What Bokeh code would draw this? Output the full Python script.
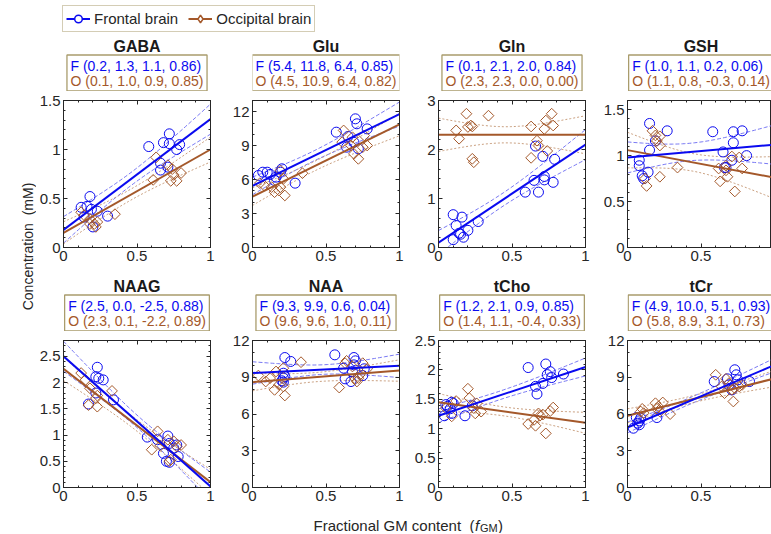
import numpy as np
from bokeh.plotting import figure
from bokeh.layouts import column, row
from bokeh.models import (Range1d, FixedTicker, LinearAxis, Legend, LegendItem,
                          CustomJSTickFormatter)
from bokeh.core.properties import value
from bokeh.embed import file_html
from bokeh.resources import INLINE

# ------------------------------------------------------------------ data
metabolites = ["GABA", "Glu", "Gln", "GSH", "NAAG", "NAA", "tCho", "tCr"]
ann_f = ["F (0.2, 1.3, 1.1, 0.86)", "F (5.4, 11.8, 6.4, 0.85)", "F (0.1, 2.1, 2.0, 0.84)",
         "F (1.0, 1.1, 0.2, 0.06)", "F (2.5, 0.0, -2.5, 0.88)", "F (9.3, 9.9, 0.6, 0.04)",
         "F (1.2, 2.1, 0.9, 0.85)", "F (4.9, 10.0, 5.1, 0.93)"]
ann_o = ["O (0.1, 1.0, 0.9, 0.85)", "O (4.5, 10.9, 6.4, 0.82)", "O (2.3, 2.3, 0.0, 0.00)",
         "O (1.1, 0.8, -0.3, 0.14)", "O (2.3, 0.1, -2.2, 0.89)", "O (9.6, 9.6, 1.0, 0.11)",
         "O (1.4, 1.1, -0.4, 0.33)", "O (5.8, 8.9, 3.1, 0.73)"]
y_max = [1.5, 13, 3, 1.6, 2.8, 12, 2.5, 12]
y_major_step = [0.5, 3, 1, 0.5, 0.5, 3, 0.5, 3]
y_minor_step = [0.1, 1, 0.2, 0.1, 0.1, 1, 0.1, 1]
x_major = [0, 0.5, 1]
x_minor_step = 0.1
fit_x = [0.0, 1.0]
# fitted concentration at f_GM = 0 and f_GM = 1 (frontal / occipital)
fit_f0 = [0.18, 5.45, 0.10, 0.98, 2.50, 9.35, 1.22, 4.90]
fit_f1 = [1.31, 11.80, 2.10, 1.12, 0.02, 9.93, 2.05, 10.00]
fit_o0 = [0.15, 4.50, 2.30, 1.06, 2.26, 8.60, 1.45, 5.85]
fit_o1 = [1.00, 10.88, 2.30, 0.76, 0.10, 9.55, 1.10, 8.90]

gaba_fx = [0.58, 0.68, 0.72, 0.72, 0.79, 0.77, 0.66, 0.66, 0.71, 0.18, 0.12, 0.16, 0.14, 0.23, 0.20, 0.30, 0.19]
gaba_fy = [1.03, 1.07, 1.16, 1.06, 1.05, 1.00, 0.86, 0.79, 0.82, 0.52, 0.41, 0.42, 0.31, 0.37, 0.21, 0.32, 0.39]
gaba_ox = [0.12, 0.14, 0.18, 0.21, 0.23, 0.22, 0.35, 0.63, 0.61, 0.71, 0.74, 0.73, 0.75, 0.77, 0.80, 0.18]
gaba_oy = [0.36, 0.33, 0.29, 0.24, 0.26, 0.21, 0.34, 0.92, 0.69, 0.84, 0.80, 0.68, 0.74, 0.68, 0.76, 0.24]

glu_fx = [0.04, 0.07, 0.10, 0.12, 0.16, 0.15, 0.19, 0.20, 0.29, 0.57, 0.65, 0.70, 0.71, 0.78, 0.64, 0.72, 0.69]
glu_fy = [6.37, 6.66, 6.66, 6.46, 6.22, 5.93, 6.66, 6.96, 5.69, 10.20, 9.82, 11.38, 10.94, 10.49, 8.87, 8.73, 9.30]
glu_ox = [0.05, 0.08, 0.13, 0.15, 0.19, 0.19, 0.18, 0.22, 0.21, 0.34, 0.62, 0.61, 0.67, 0.69, 0.72, 0.75, 0.78, 0.76, 0.68]
glu_oy = [5.69, 5.48, 5.34, 4.89, 6.81, 5.34, 5.04, 4.60, 6.07, 6.57, 10.35, 9.32, 9.02, 8.28, 7.84, 8.87, 9.02, 9.91, 9.75]

gln_fx = [0.10, 0.16, 0.12, 0.10, 0.14, 0.17, 0.20, 0.27, 0.15, 0.66, 0.71, 0.79, 0.59, 0.65, 0.68, 0.72, 0.72, 0.78]
gln_fy = [0.67, 0.62, 0.45, 0.16, 0.29, 0.21, 0.35, 0.53, 0.27, 2.07, 1.86, 1.80, 1.13, 1.37, 1.13, 1.45, 1.38, 1.33]
gln_ox = [0.12, 0.14, 0.19, 0.20, 0.22, 0.23, 0.23, 0.24, 0.34, 0.63, 0.63, 0.67, 0.68, 0.72, 0.73, 0.74, 0.77, 0.78]
gln_oy = [2.39, 2.22, 2.73, 2.46, 2.49, 2.47, 1.81, 1.74, 2.69, 2.47, 1.83, 2.18, 2.08, 2.42, 2.59, 1.97, 2.73, 2.49]

gsh_fx = [0.08, 0.08, 0.10, 0.11, 0.14, 0.15, 0.15, 0.19, 0.27, 0.58, 0.65, 0.66, 0.67, 0.72, 0.72, 0.78, 0.81, 0.71]
gsh_fy = [0.95, 0.89, 0.78, 0.75, 0.82, 1.06, 1.35, 1.16, 1.27, 1.26, 1.04, 0.87, 0.87, 1.26, 1.14, 1.27, 1.00, 0.95]
gsh_ox = [0.12, 0.13, 0.17, 0.19, 0.20, 0.22, 0.22, 0.22, 0.34, 0.62, 0.63, 0.67, 0.68, 0.71, 0.73, 0.76, 0.78, 0.67]
gsh_oy = [0.75, 0.67, 1.27, 1.22, 1.16, 1.11, 1.21, 0.77, 0.87, 0.86, 0.72, 0.84, 0.77, 0.99, 0.61, 0.98, 0.86, 0.89]

naag_fx = [0.23, 0.22, 0.24, 0.27, 0.22, 0.17, 0.34, 0.57, 0.64, 0.71, 0.72, 0.68, 0.70, 0.72, 0.75, 0.78, 0.77]
naag_fy = [2.29, 2.11, 2.08, 2.05, 1.80, 1.59, 1.67, 0.96, 0.91, 0.98, 0.84, 0.65, 0.50, 0.48, 0.75, 0.59, 0.81]
naag_ox = [0.12, 0.15, 0.18, 0.17, 0.22, 0.23, 0.23, 0.33, 0.64, 0.60, 0.66, 0.72, 0.73, 0.75, 0.77, 0.80, 0.71]
naag_oy = [2.18, 2.05, 1.89, 1.57, 1.70, 1.75, 1.54, 1.84, 1.07, 0.72, 0.80, 0.50, 0.53, 0.88, 0.78, 0.81, 0.91]

naa_fx = [0.22, 0.26, 0.21, 0.20, 0.21, 0.22, 0.21, 0.56, 0.62, 0.63, 0.67, 0.69, 0.70, 0.69, 0.75, 0.76, 0.68]
naa_fy = [10.61, 10.29, 9.33, 8.71, 8.60, 9.06, 8.93, 10.83, 9.74, 8.87, 8.65, 10.61, 10.34, 10.01, 9.14, 9.69, 9.47]
naa_ox = [0.04, 0.09, 0.12, 0.16, 0.15, 0.18, 0.21, 0.21, 0.22, 0.33, 0.59, 0.63, 0.64, 0.68, 0.70, 0.71, 0.73, 0.75, 0.78, 0.72]
naa_oy = [9.14, 8.65, 8.93, 9.47, 7.97, 8.38, 9.74, 8.24, 7.51, 10.23, 8.16, 10.15, 10.34, 9.88, 8.87, 8.65, 9.20, 10.15, 9.69, 8.93]

tcho_fx = [0.04, 0.06, 0.08, 0.09, 0.09, 0.10, 0.18, 0.23, 0.05, 0.61, 0.66, 0.67, 0.71, 0.73, 0.74, 0.76, 0.77, 0.85]
tcho_fy = [1.22, 1.38, 1.34, 1.45, 1.26, 1.43, 1.22, 1.39, 1.41, 2.04, 1.72, 1.59, 1.77, 2.10, 1.92, 1.97, 1.87, 1.93]
tcho_ox = [0.05, 0.09, 0.12, 0.20, 0.21, 0.24, 0.25, 0.29, 0.26, 0.61, 0.65, 0.66, 0.68, 0.69, 0.71, 0.73, 0.76, 0.78]
tcho_oy = [1.35, 1.21, 1.47, 1.68, 1.52, 1.35, 1.26, 1.29, 1.43, 1.08, 1.15, 1.05, 1.26, 1.22, 1.24, 0.92, 1.30, 1.36]

tcr_fx = [0.04, 0.07, 0.06, 0.08, 0.09, 0.08, 0.20, 0.59, 0.68, 0.73, 0.74, 0.71, 0.75, 0.83, 0.69]
tcr_fy = [4.84, 5.25, 5.71, 5.44, 5.66, 5.12, 5.71, 8.65, 8.87, 9.61, 9.20, 7.97, 8.79, 8.65, 8.38]
tcr_ox = [0.09, 0.10, 0.11, 0.19, 0.20, 0.21, 0.22, 0.24, 0.29, 0.60, 0.64, 0.66, 0.67, 0.69, 0.72, 0.73, 0.76, 0.78, 0.71]
tcr_oy = [6.20, 6.42, 6.07, 6.88, 6.42, 6.61, 6.20, 6.94, 5.99, 9.20, 8.24, 7.70, 8.87, 8.52, 7.02, 8.11, 8.24, 8.38, 7.97]

legend_labels = ["Frontal brain", "Occipital brain"]
x_label = "Fractional GM content \u00a0("
x_label_var = "f"
x_label_sub = "GM"
y_label = "Concentration \u00a0(mM)"

FX = [gaba_fx, glu_fx, gln_fx, gsh_fx, naag_fx, naa_fx, tcho_fx, tcr_fx]
FY = [gaba_fy, glu_fy, gln_fy, gsh_fy, naag_fy, naa_fy, tcho_fy, tcr_fy]
OX = [gaba_ox, glu_ox, gln_ox, gsh_ox, naag_ox, naa_ox, tcho_ox, tcr_ox]
OY = [gaba_oy, glu_oy, gln_oy, gsh_oy, naag_oy, naa_oy, tcho_oy, tcr_oy]

# ------------------------------------------------------------------ style
FONT = "Liberation Sans"
BLUE = "#0a0af0"
BROWN = "#a4582a"
BLUE_CI = "#6a6af2"
BROWN_CI = "#c39470"
BOXC = "#a99c6c"
INK = "#262626"
T95 = 2.12

FRAME = 147
COL_LEFT = [27, 30, 27, 30]
COL_RIGHT = [12, 12, 12, 0]
LAST_FRAME = 144
HEAD_H = 57
PANEL_TOP = 9
YL_W = 36
LEG_H = 34
TOP_B = 27
BOT_B = 24
FOOT_H = 22


def text_w(s, size):
    cw = {"F": 611, "O": 778, " ": 278, "(": 333, ")": 333, ".": 278, ",": 278, "-": 333}
    return sum(cw.get(c, 556) for c in s) * size / 1000.0


def style_axis(ax, show):
    ax.axis_line_color = INK
    ax.axis_line_width = 1
    ax.major_tick_line_color = INK
    ax.minor_tick_line_color = INK
    ax.major_tick_in = 4
    ax.major_tick_out = 0
    ax.minor_tick_in = 2
    ax.minor_tick_out = 0
    ax.major_label_text_font = FONT
    ax.major_label_text_color = INK
    if show:
        ax.major_label_text_font_size = "15px"
        ax.major_label_standoff = 3
        ax.formatter = CustomJSTickFormatter(code="return tick.toString();")
    else:
        ax.major_label_text_font_size = "1px"
        ax.major_label_standoff = 0
        ax.formatter = CustomJSTickFormatter(code="return '';")


def steps(top, step):
    n = int(np.floor(top / step + 1e-9))
    return [round(k * step, 6) for k in range(n + 1)]


def ci_curves(x, y, a, b, xs):
    x = np.asarray(x, float)
    y = np.asarray(y, float)
    n = len(x)
    resid = y - (a + (b - a) * x)
    s = np.sqrt(np.sum(resid ** 2) / (n - 2))
    xm = x.mean()
    sxx = np.sum((x - xm) ** 2)
    yl = a + (b - a) * xs
    hw = T95 * s * np.sqrt(1.0 / n + (xs - xm) ** 2 / sxx)
    return yl - hw, yl + hw


def bare(width, height, xr, yr):
    f = figure(width=width, height=height, x_range=Range1d(*xr), y_range=Range1d(*yr),
               x_axis_type=None, y_axis_type=None, output_backend="svg",
               toolbar_location=None, min_border=0, title=None)
    f.outline_line_color = None
    return f


def make_panel(i, col, bottom):
    left = COL_LEFT[col]
    right = COL_RIGHT[col]
    last = col == 3
    frame_w = FRAME if not last else LAST_FRAME
    xmax = frame_w / FRAME
    p = figure(width=left + frame_w + right, height=PANEL_TOP + FRAME + bottom,
               x_range=Range1d(0, xmax), y_range=Range1d(0, y_max[i]),
               x_axis_type=None, y_axis_type=None, title=None,
               output_backend="svg", toolbar_location=None,
               min_border_left=left, min_border_right=right,
               min_border_top=PANEL_TOP, min_border_bottom=bottom)
    p.outline_line_color = INK
    p.outline_line_width = 1
    p.background_fill_color = "white"
    yt = FixedTicker(ticks=steps(y_max[i], y_major_step[i]),
                     minor_ticks=steps(y_max[i], y_minor_step[i]))
    xt = FixedTicker(ticks=x_major, minor_ticks=steps(1.0, x_minor_step))
    axes = [("left", yt, True), ("below", xt, True), ("above", xt, False)]
    if not last:
        axes.append(("right", yt, False))
    for loc, tick, show in axes:
        ax = LinearAxis(ticker=tick)
        style_axis(ax, show)
        p.add_layout(ax, loc)

    xs = np.linspace(0, 1, 60)
    for gx, gy, a, b, cci, dash in ((FX[i], FY[i], fit_f0[i], fit_f1[i], BLUE_CI, "4 2"),
                                    (OX[i], OY[i], fit_o0[i], fit_o1[i], BROWN_CI, "2 2")):
        lo, hi = ci_curves(gx, gy, a, b, xs)
        p.line(xs, lo, line_color=cci, line_width=0.9, line_dash=dash)
        p.line(xs, hi, line_color=cci, line_width=0.9, line_dash=dash)

    p.scatter(x=FX[i], y=FY[i], marker="circle", size=10, fill_color=None,
              line_color=BLUE, line_width=1)
    p.scatter(x=OX[i], y=OY[i], marker="square", angle=np.pi / 4, size=7.6,
              fill_color=None, line_color=BROWN, line_width=1)
    p.line(fit_x, [fit_o0[i], fit_o1[i]], line_color=BROWN, line_width=2)
    p.line(fit_x, [fit_f0[i], fit_f1[i]], line_color=BLUE, line_width=2)
    return p


def make_header(i, col):
    # the header's frame is aligned by the column layout with the panel frame below,
    # so its x range is expressed in pixels across that frame
    frame_w = FRAME if col < 3 else LAST_FRAME
    w = COL_LEFT[col] + frame_w + COL_RIGHT[col]
    h = bare(w, HEAD_H, (0, frame_w), (0, HEAD_H))
    cx = FRAME / 2.0
    h.text(x=[cx], y=[45.5], text=[metabolites[i]], text_font=value(FONT),
           text_font_style="bold", text_font_size="16px", text_color="#1a1a1a",
           text_align="center", text_baseline="middle")
    bw = max(text_w(ann_f[i], 14), text_w(ann_o[i], 14)) + 7
    h.quad(left=[cx - bw / 2], right=[cx + bw / 2], bottom=[0.5], top=[36.5],
           fill_color="white", line_color=BOXC, line_width=1.3)
    h.text(x=[cx - bw / 2 + 3.5], y=[26.0], text=[ann_f[i]], text_font=value(FONT),
           text_font_size="14px", text_color=BLUE, text_align="left", text_baseline="middle")
    h.text(x=[cx - bw / 2 + 3.5], y=[10.5], text=[ann_o[i]], text_font=value(FONT),
           text_font_size="14px", text_color=BROWN, text_align="left", text_baseline="middle")
    return h


# ------------------------------------------------------------------ layout
cols = []
for col in range(4):
    cols.append(column(make_header(col, col), make_panel(col, col, TOP_B),
                       make_header(col + 4, col), make_panel(col + 4, col, BOT_B)))

grid_h = HEAD_H + (PANEL_TOP + FRAME + TOP_B) + HEAD_H + (PANEL_TOP + FRAME + BOT_B)
yl = bare(YL_W, grid_h, (0, YL_W), (0, grid_h))
yl.text(x=[27], y=[grid_h - (246 - LEG_H)], text=[y_label], angle=np.pi / 2,
        text_font=value(FONT), text_font_size="14px", text_color=INK,
        text_align="center", text_baseline="middle")

TOTAL_W = YL_W + sum(COL_LEFT) + 3 * FRAME + LAST_FRAME + sum(COL_RIGHT)

lg = bare(TOTAL_W, LEG_H, (0, 1), (0, 1))
r1 = lg.line([-2, -1], [-2, -1], line_color=BLUE, line_width=2)
r2 = lg.scatter([-2], [-2], marker="circle", size=10, fill_color="white", line_color=BLUE, line_width=1.5)
r3 = lg.line([-2, -1], [-2, -1], line_color=BROWN, line_width=2)
r4 = lg.scatter([-2], [-2], marker="diamond", size=14, fill_color="white",
                line_color=BROWN, line_width=1.5)
legend = Legend(items=[LegendItem(label=legend_labels[0], renderers=[r1, r2]),
                       LegendItem(label=legend_labels[1], renderers=[r3, r4])],
                orientation="horizontal", location=(62, 2), margin=0, padding=3,
                spacing=10, label_standoff=4, glyph_width=24, glyph_height=19,
                label_height=19, label_text_font=FONT, label_text_font_size="15px",
                label_text_color=INK, label_text_baseline="middle",
                border_line_color=BOXC, border_line_width=1.3,
                background_fill_color="white", background_fill_alpha=1)
lg.add_layout(legend)

ft = bare(TOTAL_W, FOOT_H, (0, TOTAL_W), (0, FOOT_H))
x0 = 313
w_main = 10726 * 15 / 1000.0
ft.text(x=[x0], y=[8.5], text=[x_label], text_font=value(FONT), text_font_size="15px",
        text_color=INK, text_align="left", text_baseline="alphabetic")
ft.text(x=[x0 + w_main + 0.5], y=[8.5], text=[x_label_var], text_font=value(FONT),
        text_font_style="italic", text_font_size="15px", text_color=INK,
        text_align="left", text_baseline="alphabetic")
ft.text(x=[x0 + w_main + 5.5], y=[6.0], text=[x_label_sub], text_font=value(FONT),
        text_font_size="11px", text_color=INK, text_align="left", text_baseline="alphabetic")
ft.text(x=[x0 + w_main + 5.5 + 18.0], y=[8.5], text=[")"], text_font=value(FONT),
        text_font_size="15px", text_color=INK, text_align="left", text_baseline="alphabetic")

layout = column(lg, row(yl, *cols), ft)

open("out.html", "w").write(file_html(layout, INLINE))
